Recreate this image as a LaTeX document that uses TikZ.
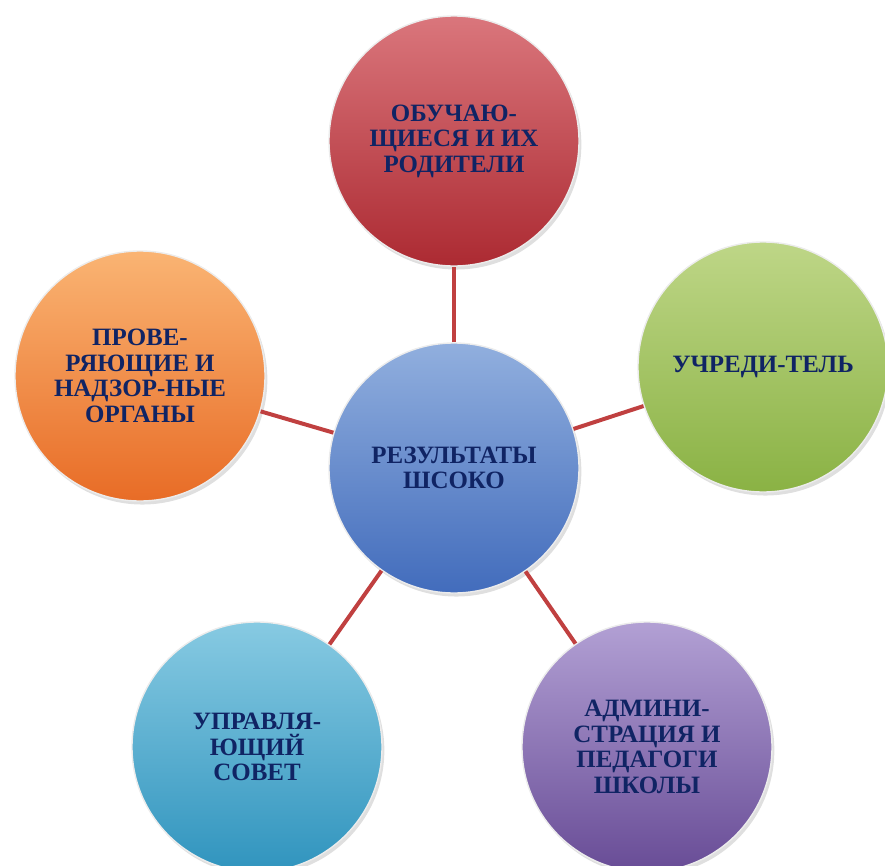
\documentclass[tikz,border=0pt]{standalone}
\usepackage{fontspec}
\setmainfont{Liberation Serif}
\usepackage{xcolor}
\usetikzlibrary{shadows}
\definecolor{navy}{RGB}{16,36,100}
\definecolor{linkred}{RGB}{192,64,64}
\definecolor{redtop}{RGB}{218,118,124}
\definecolor{redbot}{RGB}{172,42,50}
\definecolor{greentop}{RGB}{190,214,135}
\definecolor{greenbot}{RGB}{138,178,68}
\definecolor{bluetop}{RGB}{145,175,222}
\definecolor{bluebot}{RGB}{66,108,188}
\definecolor{orangetop}{RGB}{250,180,115}
\definecolor{orangebot}{RGB}{232,108,38}
\definecolor{cyantop}{RGB}{135,202,226}
\definecolor{cyanbot}{RGB}{48,148,190}
\definecolor{purpletop}{RGB}{178,160,212}
\definecolor{purplebot}{RGB}{104,76,150}

\begin{document}
\begin{tikzpicture}[x=0.03cm,y=-0.03cm]
    \tikzstyle{ball}=[circle,minimum size=7.5cm,inner sep=0pt,align=center,text=navy,font=\fontsize{21.3}{21.8}\selectfont\bfseries,draw=white!85!gray,line width=1.2pt,drop shadow={opacity=0.25,shadow xshift=2pt,shadow yshift=-3pt}]
    \tikzstyle{red}=[top color=redtop,bottom color=redbot]
    \tikzstyle{green}=[top color=greentop,bottom color=greenbot]
    \tikzstyle{blue}=[top color=bluetop,bottom color=bluebot]
    \tikzstyle{orange}=[top color=orangetop,bottom color=orangebot]
    \tikzstyle{cyan}=[top color=cyantop,bottom color=cyanbot]
    \tikzstyle{purple}=[top color=purpletop,bottom color=purplebot]
    \tikzstyle{link}=[draw=linkred,line width=3.4pt]

    \useasboundingbox (0,0) rectangle (885,866);

    \node[ball,blue]    (res)    at (454,468) {РЕЗУЛЬТАТЫ\\ШСОКО};

    \node[ball,red]     (pupils) at (454,141) {ОБУЧАЮ-\\ЩИЕСЯ И ИХ\\РОДИТЕЛИ};
    \node[ball,green]   (founder) at (763,367) {УЧРЕДИ-ТЕЛЬ};
    \node[ball,orange]  (inspect) at (140,376) {ПРОВЕ-\\РЯЮЩИЕ И\\НАДЗОР-НЫЕ\\ОРГАНЫ};
    \node[ball,cyan]    (council) at (257,747) {УПРАВЛЯ-\\ЮЩИЙ\\СОВЕТ};
    \node[ball,purple]  (admin)  at (647,747) {АДМИНИ-\\СТРАЦИЯ И\\ПЕДАГОГИ\\ШКОЛЫ};

   \draw [link] (res) -- (pupils);
   \draw [link] (res) -- (founder);
   \draw [link] (res) -- (inspect);
   \draw [link] (res) -- (council);
   \draw [link] (res) -- (admin);

\end{tikzpicture}
\end{document}
